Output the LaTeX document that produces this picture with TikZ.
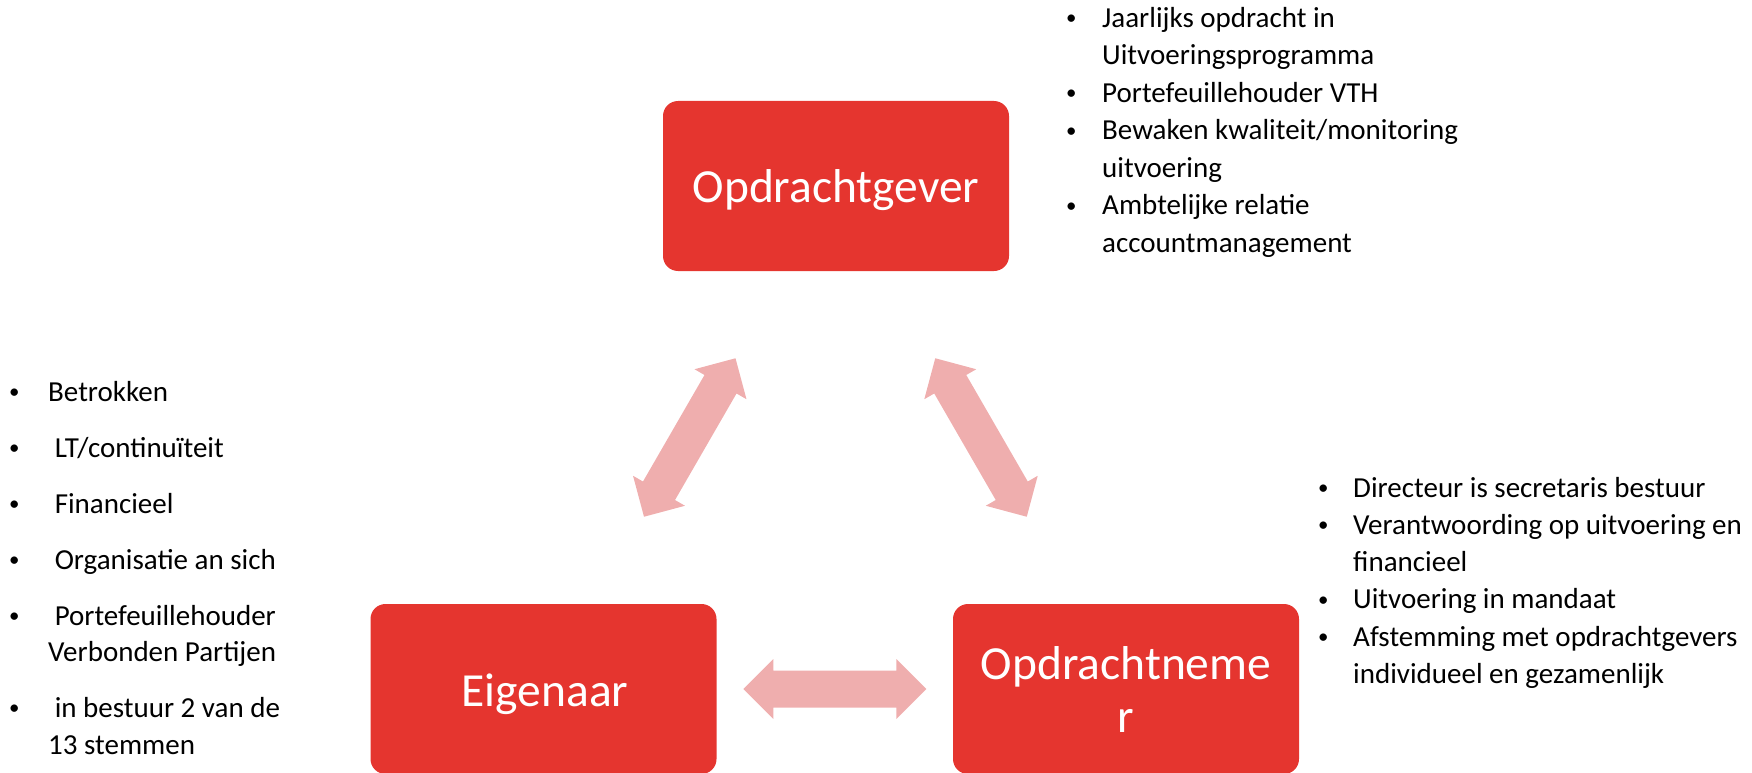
\documentclass[tikz,border=0pt]{standalone}
\usepackage{fontspec}
\usepackage{graphicx}
\setmainfont{Carlito}
\usetikzlibrary{calc}
\definecolor{boxred}{HTML}{E5352F}
\definecolor{arrowpink}{HTML}{EFAEAE}
\newlength{\blgap}
\newcommand{\blitem}{\makebox[0pt]{\raisebox{2.6pt}{\scalebox{0.72}{\textbullet}}}\hspace{\blgap}}
\newcommand{\blcont}{\hspace{\blgap}}
\begin{document}
\begin{tikzpicture}[x=1pt,y=-1pt,
  box/.style={fill=boxred, rounded corners=15pt, minimum width=346pt, minimum height=170pt, inner sep=0pt},
  boxtext/.style={text=white, font=\fontsize{47.5}{54}\selectfont, inner sep=0pt, anchor=base},
  bullets/.style={inner sep=0pt, anchor=base west},
  blockarrow/.style={fill=arrowpink}]
\useasboundingbox (0,0) rectangle (1752,773);

% boxes
\node[box] (og) at (836,186) {};
\node[box] (ei) at (543.5,689) {};
\node[box] (on) at (1126,689) {};

\node[boxtext] (ogt) at (836,202) {Opdrachtgever};
\node[boxtext] (eit) at (545,706) {Eigenaar};
\node[boxtext] (ont1) at (1126,679) {Opdrachtneme};
\node[boxtext] (ont2) at (1126,732) {r};

% block arrows
\coordinate (aL) at ($(ei)!0.5!(og)$);
\coordinate (aR) at ($(on)!0.5!(og)$);
\coordinate (aB) at ($(ei)!0.5!(on)$);
\fill[blockarrow, shift={(aL)}, rotate=60]
  (-91.5,0) -- (-61.5,30) -- (-61.5,18.5) -- (61.5,18.5) -- (61.5,30) -- (91.5,0)
  -- (61.5,-30) -- (61.5,-18.5) -- (-61.5,-18.5) -- (-61.5,-30) -- cycle;
\fill[blockarrow, shift={(aR)}, rotate=-60]
  (-91.5,0) -- (-61.5,30) -- (-61.5,18.5) -- (61.5,18.5) -- (61.5,30) -- (91.5,0)
  -- (61.5,-30) -- (61.5,-18.5) -- (-61.5,-18.5) -- (-61.5,-30) -- cycle;
\fill[blockarrow, shift={(aB)}]
  (-91.5,0) -- (-61.5,30) -- (-61.5,18.5) -- (61.5,18.5) -- (61.5,30) -- (91.5,0)
  -- (61.5,-30) -- (61.5,-18.5) -- (-61.5,-18.5) -- (-61.5,-30) -- cycle;

% bullet lists
\node[bullets] (listog) at (1071,27.5) {\fontsize{29}{37.5}\selectfont\setlength{\blgap}{31pt}%
\begin{tabular}[t]{@{}l@{}}
\blitem Jaarlijks opdracht in\\
\blcont Uitvoeringsprogramma\\
\blitem Portefeuillehouder VTH\\
\blitem Bewaken kwaliteit/monitoring\\
\blcont uitvoering\\
\blitem Ambtelijke relatie\\
\blcont accountmanagement
\end{tabular}};

\node[bullets] (listei) at (14,401) {\fontsize{29}{36.5}\selectfont\setlength{\blgap}{34pt}%
\begin{tabular}[t]{@{}l@{}}
\blitem Betrokken\\[19.5pt]
\blitem \ LT/continuïteit\\[19.5pt]
\blitem \ Financieel\\[19.5pt]
\blitem \ Organisatie an sich\\[19.5pt]
\blitem \ Portefeuillehouder\\
\blcont Verbonden Partijen\\[19.5pt]
\blitem \ in bestuur 2 van de\\
\blcont 13 stemmen
\end{tabular}};

\node[bullets] (liston) at (1323,497) {\fontsize{29}{37.3}\selectfont\setlength{\blgap}{30pt}%
\begin{tabular}[t]{@{}l@{}}
\blitem Directeur is secretaris bestuur\\
\blitem Verantwoording op uitvoering en\\
\blcont financieel\\
\blitem Uitvoering in mandaat\\
\blitem Afstemming met opdrachtgevers\\
\blcont individueel en gezamenlijk
\end{tabular}};
\end{tikzpicture}
\end{document}
